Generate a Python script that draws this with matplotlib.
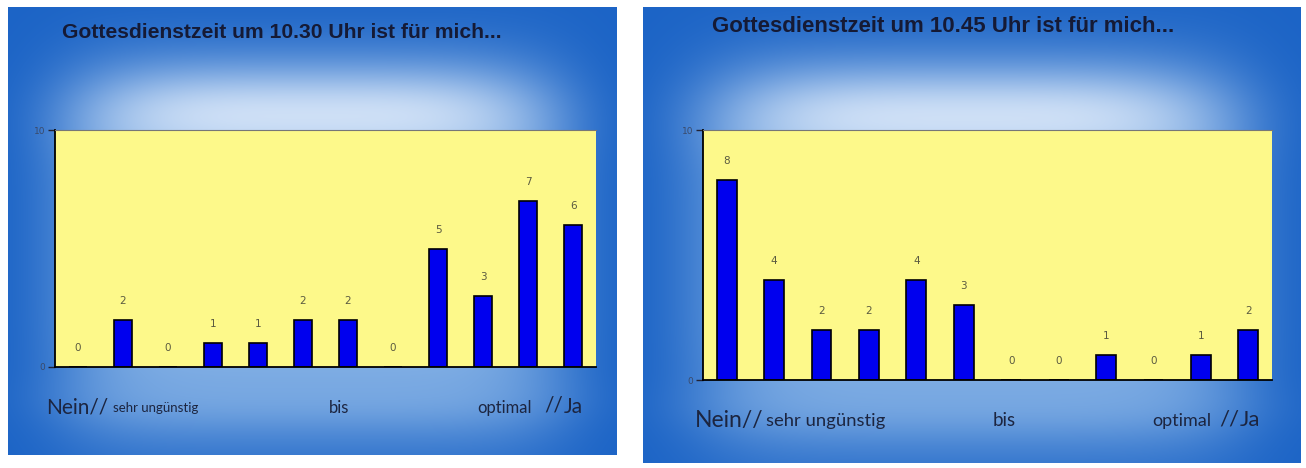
import numpy as np
import matplotlib
matplotlib.use("Agg")
import matplotlib.pyplot as plt

W, H = 1306, 468
categories = list(range(1, 13))
values_1030 = [0, 2, 0, 1, 1, 2, 2, 0, 5, 3, 7, 6]
values_1045 = [8, 4, 2, 2, 4, 3, 0, 0, 1, 0, 1, 2]
titles = ["Gottesdienstzeit um 10.30 Uhr ist für mich...",
          "Gottesdienstzeit um 10.45 Uhr ist für mich..."]
yticks = [0, 10]

fig = plt.figure(figsize=(W / 100, H / 100), dpi=100)
fig.patch.set_facecolor("white")


def px(x0, y0, w, h):
    return [x0 / W, 1 - (y0 + h) / H, w / W, h / H]


def background(rect):
    ax = fig.add_axes(px(*rect))
    ax.set_axis_off()
    ny, nx = 200, 300
    xx, yy = np.meshgrid(np.linspace(0, 1, nx), np.linspace(0, 1, ny))
    edge = np.array([28, 100, 198]) / 255
    mid = np.array([140, 183, 232]) / 255
    glow = np.array([222, 234, 250]) / 255
    gx = np.exp(-((xx - 0.5) / 0.42) ** 6)
    gy = np.exp(-((yy - 0.55) / 0.42) ** 4)
    w1 = gx * gy
    img = edge[None, None, :] * (1 - w1[..., None]) + mid[None, None, :] * w1[..., None]
    g2 = np.exp(-((xx - 0.5) / 0.36) ** 4) * np.exp(-((yy - 0.24) / 0.1) ** 2) * 0.85
    img = img * (1 - g2[..., None]) + glow[None, None, :] * g2[..., None]
    g3 = np.exp(-((xx - 0.5) / 0.4) ** 4) * np.exp(-((yy - 0.88) / 0.06) ** 2) * 0.35
    img = img * (1 - g3[..., None]) + mid[None, None, :] * g3[..., None]
    ax.imshow(img, extent=[0, 1, 0, 1], aspect="auto", interpolation="bicubic")
    return ax


def panel(bg_rect, ax_rect, values, title, title_xy, title_fs, texts, bar_w):
    background(bg_rect)
    ax = fig.add_axes(px(*ax_rect))
    ax.set_facecolor("#fdf98a")
    ax.bar(categories, values, width=bar_w, color="#0000ee", edgecolor="black", linewidth=1.2)
    for c, v in zip(categories, values):
        ax.annotate(str(v), (c, v), xytext=(0, 10), textcoords="offset points",
                    ha="center", va="bottom", fontsize=7.5, color="#5a5a40")
    ax.set_xlim(0.5, 12.5)
    ax.set_ylim(0, 10)
    ax.set_yticks(yticks)
    ax.set_yticklabels([str(t) for t in yticks], fontsize=6.5, color="#3a4a6a")
    ax.tick_params(axis="y", length=5, width=1, color="#223", pad=2)
    ax.set_xticks([])
    ax.spines["right"].set_visible(False)
    ax.spines["top"].set_color("#777777")
    ax.spines["left"].set_color("black")
    ax.spines["bottom"].set_color("black")
    ax.spines["left"].set_linewidth(1.3)
    ax.spines["bottom"].set_linewidth(1.3)
    fig.text(title_xy[0] / W, 1 - title_xy[1] / H, title, fontsize=title_fs, fontweight="bold",
             family="Liberation Sans", color="#151a35", va="center", ha="left")
    for (s, x, y, fs) in texts:
        fig.text(x / W, 1 - y / H, s, fontsize=fs, family="Lato", color="#1c2540",
                 va="center", ha="left")


panel((8, 7, 609, 448), (55, 130, 541, 237), values_1030, titles[0], (62, 33), 15.2,
      [("Nein//", 46, 407, 15), ("sehr ungünstig", 113, 408, 9.5), ("bis", 329, 408, 12),
       ("optimal", 477, 408, 12), ("//", 544, 406, 15), ("Ja", 564, 407, 15)],
      0.4)
panel((643, 7, 657, 456), (703, 130, 569, 250), values_1045, titles[1], (712, 27), 16,
      [("Nein//", 695, 420, 16.5), ("sehr ungünstig", 766, 421, 13.3), ("bis", 993, 421, 13.5),
       ("optimal", 1152, 421, 13), ("//", 1219, 419, 16), ("Ja", 1240, 420, 16)],
      0.42)

fig.savefig("out.png", dpi=100)
